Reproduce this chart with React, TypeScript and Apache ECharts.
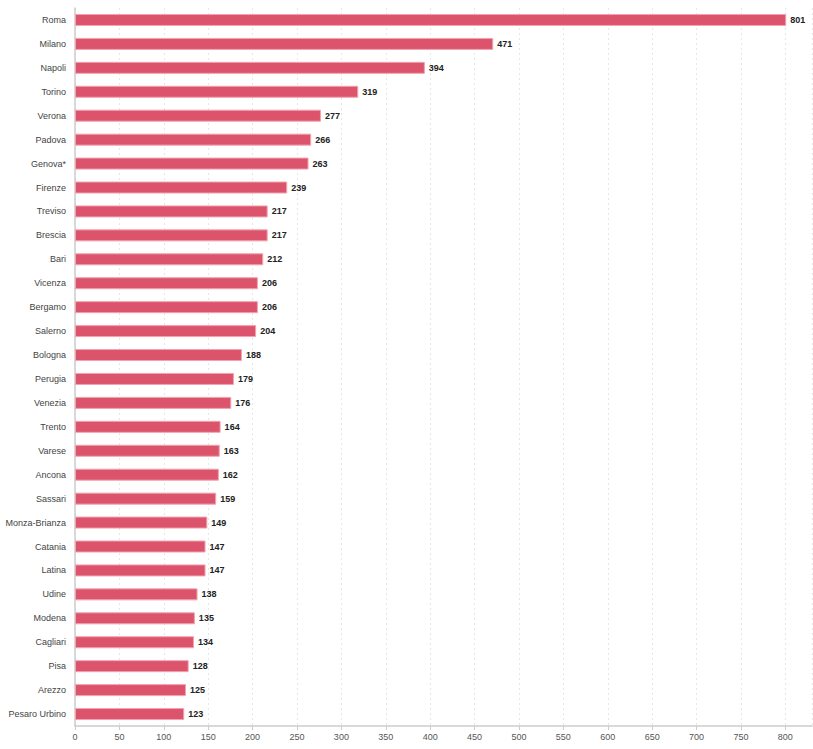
import React, { useEffect, useRef } from "react";
import * as echarts from "echarts";

const categories = [
  "Roma", "Milano", "Napoli", "Torino", "Verona", "Padova", "Genova*", "Firenze",
  "Treviso", "Brescia", "Bari", "Vicenza", "Bergamo", "Salerno", "Bologna", "Perugia",
  "Venezia", "Trento", "Varese", "Ancona", "Sassari", "Monza-Brianza", "Catania", "Latina",
  "Udine", "Modena", "Cagliari", "Pisa", "Arezzo", "Pesaro Urbino",
];
const values = [
  801, 471, 394, 319, 277, 266, 263, 239,
  217, 217, 212, 206, 206, 204, 188, 179,
  176, 164, 163, 162, 159, 149, 147, 147,
  138, 135, 134, 128, 125, 123,
];

export default function App() {
  const ref = useRef<HTMLDivElement>(null);
  useEffect(() => {
    if (!ref.current) return;
    const chart = echarts.init(ref.current, undefined, { renderer: "svg" });
    chart.setOption({
      animation: false,
      textStyle: { fontFamily: "Liberation Sans, Arial, sans-serif" },
      grid: {
        left: 75, right: 1, top: 8, bottom: 23,
        containLabel: false, outerBoundsMode: "none",
      },
      xAxis: {
        type: "value",
        min: 0,
        max: 830,
        interval: 50,
        axisLine: { show: true, lineStyle: { color: "#cccccc", width: 1.5 } },
        axisTick: { show: true, length: 4, lineStyle: { color: "#cccccc" } },
        axisLabel: { color: "#555555", fontSize: 9, margin: 6, showMaxLabel: false },
        splitLine: { show: true, lineStyle: { color: "#e6e6e6", type: [2, 3] } },
      },
      yAxis: {
        type: "category",
        data: categories,
        inverse: true,
        axisLine: { show: true, lineStyle: { color: "#cccccc", width: 1.5 } },
        axisTick: { show: false },
        axisLabel: { color: "#444444", fontSize: 9, margin: 9 },
        splitLine: { show: false },
      },
      series: [
        {
          type: "bar",
          data: values,
          barWidth: 12,
          itemStyle: { color: "#dc546b", borderColor: "#f2a3b0", borderWidth: 1 },
          label: {
            show: true,
            position: "right",
            distance: 4,
            color: "#222222",
            fontSize: 9,
            fontWeight: "bold",
          },
        },
      ],
    });
    return () => chart.dispose();
  }, []);
  return <div ref={ref} style={{ width: 813, height: 749, position: "absolute", left: 0, top: 0 }} />;
}
